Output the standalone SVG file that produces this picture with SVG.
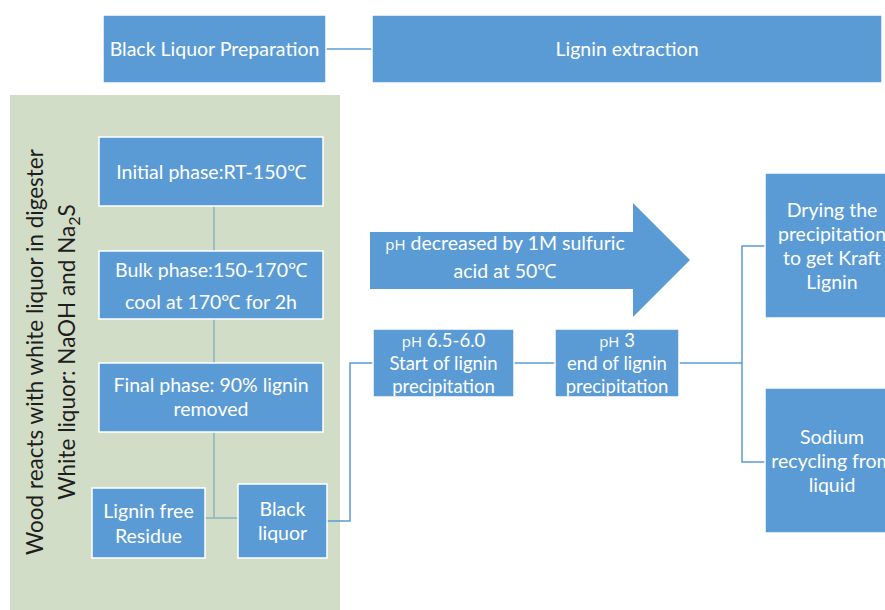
<svg xmlns="http://www.w3.org/2000/svg" width="885" height="610" viewBox="0 0 885 610">
  <style>
    .box { fill: #5b9bd5; stroke: #ffffff; stroke-width: 1.5; }
    .lbl { font-family: Lato, "Open Sans", "Liberation Sans", sans-serif; font-size: 19.5px; fill: #ffffff; text-anchor: middle; }
    .tight { font-size: 18.5px; }
    .ph { font-family: "Open Sans", "Liberation Sans", sans-serif; font-size: 15px; }
    .side { font-family: Lato, "Open Sans", "Liberation Sans", sans-serif; font-size: 22.5px; fill: #1e1e1e; text-anchor: middle; }
    .ln { fill: none; stroke: #5b9bd5; stroke-width: 1.5; }
    .ln-in { fill: none; stroke: #8fb3bd; stroke-width: 1.5; }
  </style>

  <rect x="0" y="0" width="885" height="610" fill="#ffffff"/>

  <!-- digester panel -->
  <g id="digester-panel">
    <rect x="10" y="95" width="330" height="515" fill="#d2ddc8"/>
    <text class="side" transform="translate(43 352) rotate(-90)">Wood reacts with white liquor in digester</text>
    <text class="side" transform="translate(75 352) rotate(-90)">White liquor: NaOH and Na<tspan font-size="16" dy="5">2</tspan><tspan dy="-5">S</tspan></text>
  </g>

  <!-- connectors -->
  <g id="connectors">
    <path class="ln" d="M326 49 H372"/>
    <path class="ln-in" d="M214 206 V251 M214 319 V363 M214 432 V518 M205 518 H238"/>
    <path class="ln" d="M327 521 H350 V363 H373"/>
    <path class="ln" d="M514 363 H555"/>
    <path class="ln" d="M679 363 H742"/>
    <path class="ln" d="M765 246 H742 V462 H765"/>
  </g>

  <g id="black-liquor-preparation">
    <rect class="box" x="103" y="15" width="223" height="68"/>
    <text class="lbl" x="214.5" y="56">Black Liquor Preparation</text>
  </g>

  <g id="lignin-extraction">
    <rect class="box" x="372" y="15" width="510" height="68"/>
    <text class="lbl" x="627" y="56">Lignin extraction</text>
  </g>

  <g id="initial-phase">
    <rect class="box" x="99" y="137" width="224" height="69"/>
    <text class="lbl" x="211" y="179">Initial phase:RT-150℃</text>
  </g>

  <g id="bulk-phase">
    <rect class="box" x="99" y="251" width="224" height="68"/>
    <text class="lbl" x="211" y="277">Bulk phase:150-170℃</text>
    <text class="lbl" x="211" y="309">cool at 170℃ for 2h</text>
  </g>

  <g id="final-phase">
    <rect class="box" x="99" y="363" width="224" height="69"/>
    <text class="lbl" x="211" y="392">Final phase: 90% lignin</text>
    <text class="lbl" x="211" y="416">removed</text>
  </g>

  <g id="lignin-free-residue">
    <rect class="box" x="92" y="488" width="113" height="70"/>
    <text class="lbl" x="148.5" y="518">Lignin free</text>
    <text class="lbl" x="148.5" y="543">Residue</text>
  </g>

  <g id="black-liquor">
    <rect class="box" x="238" y="484" width="89" height="74"/>
    <text class="lbl" x="282.5" y="516">Black</text>
    <text class="lbl" x="282.5" y="540">liquor</text>
  </g>

  <g id="acid-arrow">
    <path d="M370 232 H633 V203 L690 260 L633 317 V289 H370 Z" fill="#5b9bd5"/>
    <text class="lbl" x="505" y="250"><tspan class="ph">pH</tspan> decreased by 1M sulfuric</text>
    <text class="lbl" x="505" y="278">acid at 50℃</text>
  </g>

  <g id="ph-start">
    <rect class="box" x="373" y="329" width="141" height="68"/>
    <text class="lbl tight" x="443.5" y="347"><tspan class="ph">pH</tspan> 6.5-6.0</text>
    <text class="lbl tight" x="443.5" y="370">Start of lignin</text>
    <text class="lbl tight" x="443.5" y="393">precipitation</text>
  </g>

  <g id="ph-end">
    <rect class="box" x="555" y="329" width="124" height="68"/>
    <text class="lbl tight" x="617" y="347"><tspan class="ph">pH</tspan> 3</text>
    <text class="lbl tight" x="617" y="370">end of lignin</text>
    <text class="lbl tight" x="617" y="393">precipitation</text>
  </g>

  <g id="drying">
    <rect class="box" x="765" y="173" width="130" height="145"/>
    <text class="lbl" x="832" y="217">Drying the</text>
    <text class="lbl" x="832" y="241">precipitation</text>
    <text class="lbl" x="832" y="265">to get Kraft</text>
    <text class="lbl" x="832" y="289">Lignin</text>
  </g>

  <g id="sodium-recycling">
    <rect class="box" x="765" y="388" width="130" height="145"/>
    <text class="lbl" x="832" y="444">Sodium</text>
    <text class="lbl" x="832" y="468">recycling from</text>
    <text class="lbl" x="832" y="492">liquid</text>
  </g>
</svg>
